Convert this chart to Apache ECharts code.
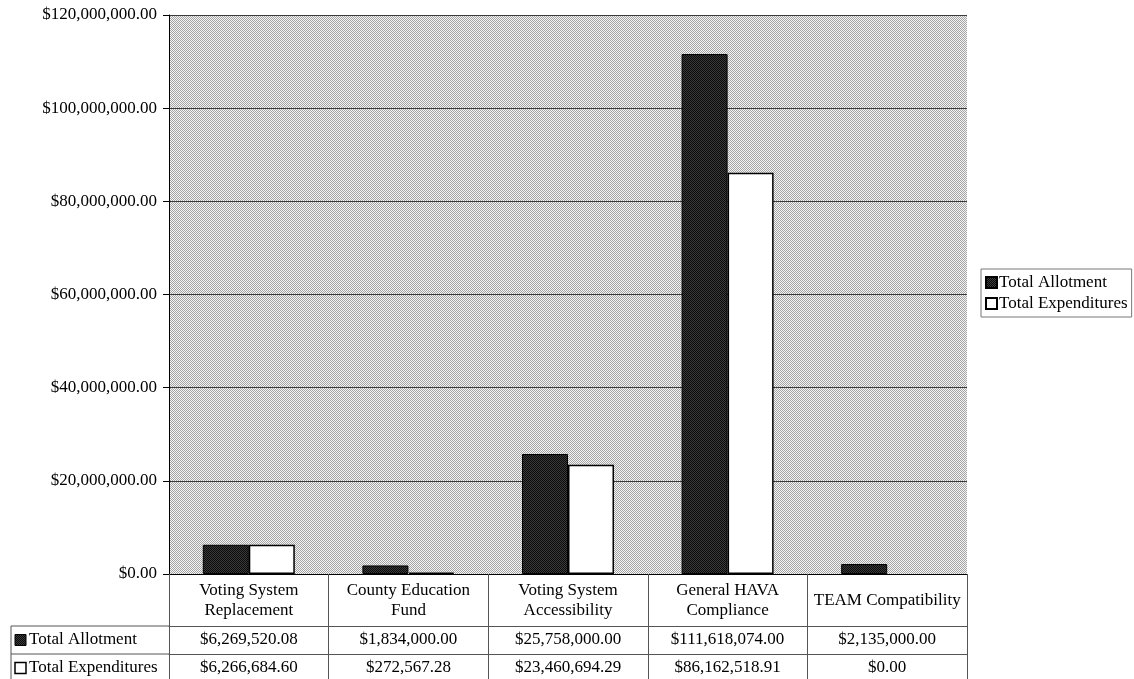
<!DOCTYPE html>
<html>
<head>
<meta charset="utf-8">
<title>HAVA Funds: Allotment and Expenditures</title>
<script src="https://cdn.jsdelivr.net/npm/echarts@6/dist/echarts.min.js"></script>
<style>
  html, body { margin: 0; padding: 0; background: #fff; }
  #chart { width: 1134px; height: 679px; }
</style>
</head>
<body>
<div id="chart"></div>
<script>
// Program categories (line breaks as shown in the table header)
const categories = [
  'Voting System\nReplacement',
  'County Education\nFund',
  'Voting System\nAccessibility',
  'General HAVA\nCompliance',
  'TEAM Compatibility'
];
const seriesNames = ['Total Allotment', 'Total Expenditures'];
const allotment = [6269520.08, 1834000.00, 25758000.00, 111618074.00, 2135000.00];
const expenditures = [6266684.60, 272567.28, 23460694.29, 86162518.91, 0];

// Value axis range
const yMin = 0;
const yMax = 120000000;
const yStep = 20000000;

// Layout
const W = 1134, H = 679;
const plotLeft = 169, plotRight = 967, plotTop = 15, plotBottom = 574;
const headerH = 52, rowH = 28;
const tableLeft = 11;
const serif = '"Liberation Serif", "Times New Roman", serif';
const fs = 17;

function money(v) {
  const parts = v.toFixed(2).split('.');
  return '$' + parts[0].replace(/\B(?=(\d{3})+(?!\d))/g, ',') + '.' + parts[1];
}

// Two-tone 1px checker fills
function dither(a, b) {
  const c = document.createElement('canvas');
  c.width = 2; c.height = 2;
  const g = c.getContext('2d');
  g.fillStyle = b; g.fillRect(0, 0, 2, 2);
  g.fillStyle = a; g.fillRect(0, 0, 1, 1); g.fillRect(1, 1, 1, 1);
  return { image: c, repeat: 'repeat' };
}
const plotFill = dither('#a4a4a4', '#f4f4f4');
const darkFill = dither('#0a0a0a', '#3c3c3c');

// A zero-value bar has no outline
const expenditureData = expenditures.map(v => v === 0 ? { value: v, itemStyle: { borderWidth: 0 } } : v);

const row1Y = plotBottom + headerH;
const row2Y = row1Y + rowH;

const chart = echarts.init(document.getElementById('chart'), null, { renderer: 'canvas' });

chart.setOption({
  animation: false,
  backgroundColor: '#fff',
  textStyle: { fontFamily: serif },
  grid: {
    left: plotLeft, right: W - plotRight, top: plotTop, bottom: H - plotBottom,
    show: true, backgroundColor: plotFill, borderWidth: 0
  },
  legend: {
    data: seriesNames.map(n => ({ name: n, icon: 'rect' })),
    orient: 'vertical',
    left: 981, top: 269,
    padding: [4, 4, 4, 4],
    itemWidth: 11, itemHeight: 11, itemGap: 2,
    borderColor: '#777', borderWidth: 1,
    textStyle: { fontFamily: serif, fontSize: fs, color: '#000', padding: [0, 0, 0, -3], lineHeight: 19 }
  },
  yAxis: {
    type: 'value',
    min: yMin, max: yMax, interval: yStep,
    axisLine: { show: true, lineStyle: { color: '#000', width: 1 } },
    axisTick: { show: true, length: 6, lineStyle: { color: '#000' } },
    axisLabel: {
      margin: 12, color: '#000', fontFamily: serif, fontSize: fs,
      formatter: v => money(v)
    },
    splitLine: { show: true, lineStyle: { color: '#3a3a3a', width: 1 } }
  },
  xAxis: [
    {
      type: 'category', data: categories, position: 'bottom',
      axisLine: { show: true, lineStyle: { color: '#000', width: 1 } },
      axisTick: { show: true, interval: 0, length: H - plotBottom + 5, lineStyle: { color: '#555' } },
      axisLabel: {
        interval: 0, margin: 27, verticalAlign: 'middle', align: 'center',
        color: '#000', fontFamily: serif, fontSize: fs, lineHeight: 20
      }
    },
    {
      type: 'category', data: categories, position: 'bottom', offset: headerH,
      axisLine: { show: true, lineStyle: { color: '#555', width: 1 } },
      axisTick: { show: false },
      axisLabel: {
        interval: 0, margin: 14, verticalAlign: 'middle',
        color: '#000', fontFamily: serif, fontSize: fs,
        formatter: (v, i) => money(allotment[i])
      }
    },
    {
      type: 'category', data: categories, position: 'bottom', offset: headerH + rowH,
      axisLine: { show: true, lineStyle: { color: '#555', width: 1 } },
      axisTick: { show: false },
      axisLabel: {
        interval: 0, margin: 14, verticalAlign: 'middle',
        color: '#000', fontFamily: serif, fontSize: fs,
        formatter: (v, i) => money(expenditures[i])
      }
    }
  ],
  series: [
    {
      name: seriesNames[0], type: 'bar', xAxisIndex: 0, data: allotment,
      barWidth: 46, barGap: '0%',
      itemStyle: { color: darkFill, borderColor: '#000', borderWidth: 1 }
    },
    {
      name: seriesNames[1], type: 'bar', xAxisIndex: 0, data: expenditureData,
      barWidth: 46, barGap: '0%',
      itemStyle: { color: '#fff', borderColor: '#000', borderWidth: 1.5 }
    }
  ],
  graphic: [
    // Row-label column of the data table
    { type: 'line', shape: { x1: tableLeft, y1: row1Y, x2: plotLeft, y2: row1Y }, style: { stroke: '#555', lineWidth: 1 } },
    { type: 'line', shape: { x1: tableLeft, y1: row2Y, x2: plotLeft, y2: row2Y }, style: { stroke: '#555', lineWidth: 1 } },
    { type: 'line', shape: { x1: tableLeft, y1: row1Y, x2: tableLeft, y2: H }, style: { stroke: '#555', lineWidth: 1 } },
    { type: 'rect', shape: { x: 15, y: row1Y + rowH / 2 - 5.5, width: 11, height: 11 }, style: { fill: darkFill, stroke: '#000', lineWidth: 1 } },
    { type: 'text', x: 29, y: row1Y + rowH / 2, style: { text: seriesNames[0], fill: '#000', font: fs + 'px ' + serif, verticalAlign: 'middle' } },
    { type: 'rect', shape: { x: 15, y: row2Y + rowH / 2 - 5.5, width: 11, height: 11 }, style: { fill: '#fff', stroke: '#000', lineWidth: 1.5 } },
    { type: 'text', x: 29, y: row2Y + rowH / 2, style: { text: seriesNames[1], fill: '#000', font: fs + 'px ' + serif, verticalAlign: 'middle' } }
  ]
});
</script>
</body>
</html>
